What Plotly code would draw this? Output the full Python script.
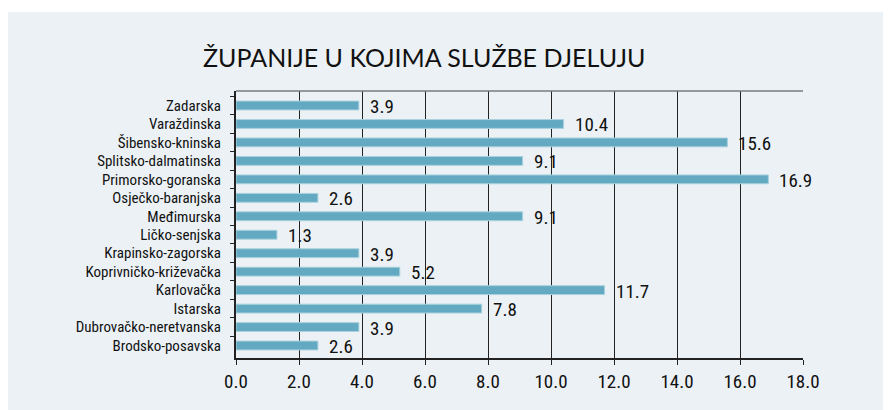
import plotly.graph_objects as go

categories = ["Zadarska", "Varaždinska", "Šibensko-kninska", "Splitsko-dalmatinska",
              "Primorsko-goranska", "Osječko-baranjska", "Međimurska", "Ličko-senjska",
              "Krapinsko-zagorska", "Koprivničko-križevačka", "Karlovačka", "Istarska",
              "Dubrovačko-neretvanska", "Brodsko-posavska"]
values = [3.9, 10.4, 15.6, 9.1, 16.9, 2.6, 9.1, 1.3, 3.9, 5.2, 11.7, 7.8, 3.9, 2.6]
x_ticks = [0, 2, 4, 6, 8, 10, 12, 14, 16, 18]
title_text = "ŽUPANIJE U KOJIMA SLUŽBE DJELUJU"

NARROW = "Roboto Condensed, DejaVu Sans Condensed, sans-serif"
OFF = 8  # page body margin
W, H = 891 - OFF, 410 - OFF
L, T = 236 - OFF, 91 - OFF
R = W - (803 - OFF)
B = H - (358 - OFF)
pw, ph = W - L - R, H - T - B

fig = go.Figure()
fig.add_trace(go.Bar(
    x=values, y=categories, orientation="h",
    marker=dict(color="#63A9C1", line=dict(color="#A9D2DE", width=1)),
    width=0.48, hoverinfo="skip", cliponaxis=False,
))

annotations = []
for c, v in zip(categories, values):
    annotations.append(dict(x=v, y=c, xref="x", yref="y", text=f"{v:.1f}",
                            showarrow=False, xanchor="left", yanchor="middle",
                            xshift=9, yshift=-1,
                            font=dict(family=NARROW, size=19, color="#111111")))

shapes = [
    dict(type="rect", xref="paper", yref="paper", layer="below",
         x0=-(L + 5) / pw, x1=(W - L + 5) / pw, y0=-(B + 5) / ph, y1=(H - B - 4) / ph,
         fillcolor="#ECF1F6", line=dict(width=0)),
    dict(type="line", xref="paper", yref="paper", x0=0, x1=1, y0=1, y1=1,
         line=dict(color="#7A7A7A", width=1.5)),
]

fig.update_layout(
    width=W, height=H,
    margin=dict(l=L, r=R, t=T, b=B),
    paper_bgcolor="white", plot_bgcolor="rgba(0,0,0,0)",
    showlegend=False,
    title=dict(text=title_text, x=(203 - OFF) / W, xanchor="left",
               y=1 - (58 - OFF) / H, yanchor="middle",
               font=dict(family="Lato, Open Sans, sans-serif", size=25, color="#111111")),
    xaxis=dict(range=[0, 18], tickvals=x_ticks, ticktext=[f"{t:.1f}" for t in x_ticks],
               showgrid=True, gridcolor="#222222", gridwidth=1,
               showline=True, linecolor="#222222", linewidth=2,
               ticks="outside", ticklen=5, tickcolor="#222222",
               tickfont=dict(family=NARROW, size=19, color="#111111"),
               zeroline=False, fixedrange=True),
    yaxis=dict(categoryorder="array", categoryarray=categories, autorange="reversed",
               dtick=1, tick0=0,
               showline=True, linecolor="#222222", linewidth=2,
               ticks="outside", ticklen=4, tickcolor="#222222", tickson="boundaries",
               ticklabelstandoff=10,
               tickfont=dict(family=NARROW, size=15, color="#111111"),
               showgrid=False, fixedrange=True),
    annotations=annotations,
    shapes=shapes,
)

fig.write_html("out.html")
